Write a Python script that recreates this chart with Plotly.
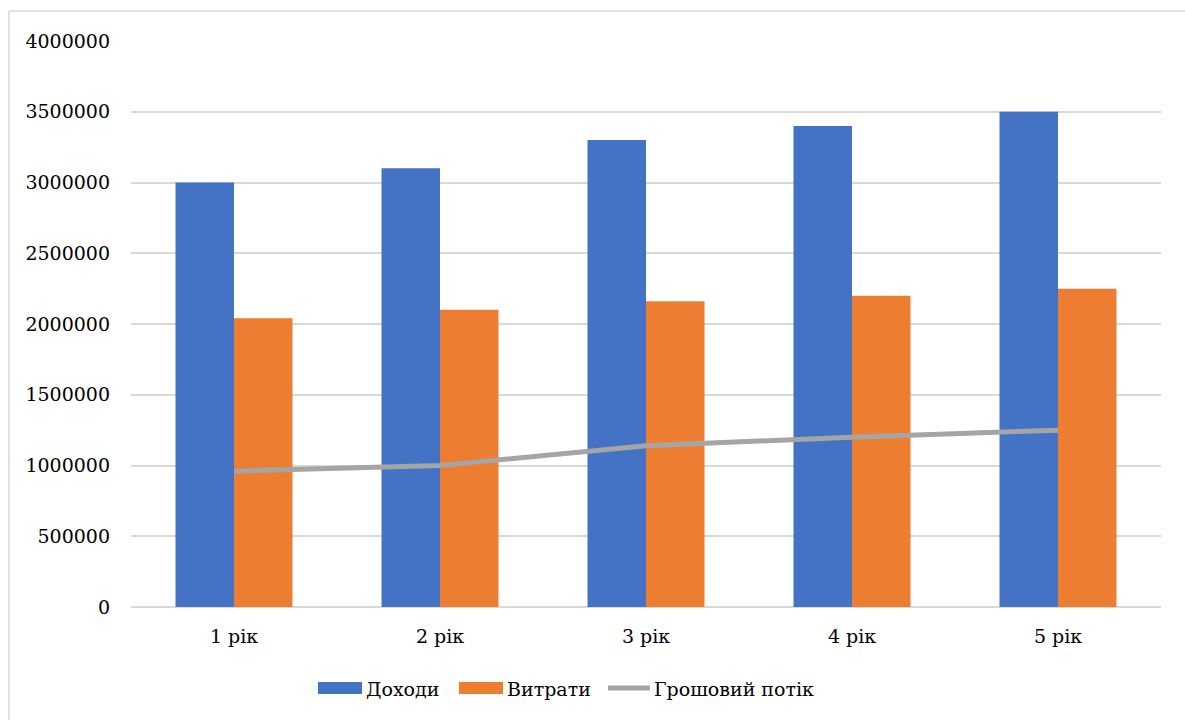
import plotly.graph_objects as go

# Річні показники, грн
years = ["1 рік", "2 рік", "3 рік", "4 рік", "5 рік"]
income = [3000000, 3100000, 3300000, 3400000, 3500000]
expenses = [2040000, 2100000, 2160000, 2200000, 2250000]
cash_flow = [960000, 1000000, 1140000, 1200000, 1250000]

W, H = 1185, 720
L, R, T, B = 131, 24, 41, 113
PW, PH = W - L - R, H - T - B

BLUE, ORANGE, GRAY = "#4472C4", "#ED7D31", "#A5A5A5"
TXT = dict(family="DejaVu Serif", size=19, color="#000")


def px(x):
    return (x - L) / PW


def py(y):
    return (H - B - y) / PH


fig = go.Figure()
fig.add_bar(x=years, y=income, name="Доходи", marker_color=BLUE, marker_line_width=0)
fig.add_bar(x=years, y=expenses, name="Витрати", marker_color=ORANGE, marker_line_width=0)
fig.add_scatter(x=years, y=cash_flow, name="Грошовий потік", mode="lines",
                line=dict(color=GRAY, width=5))

shapes = [
    # рамка області діаграми
    dict(type="line", xref="paper", yref="paper", x0=px(9), x1=px(W + 5),
         y0=py(11), y1=py(11), line=dict(color="#D9D9D9", width=1.5)),
    dict(type="line", xref="paper", yref="paper", x0=px(9), x1=px(9),
         y0=py(11), y1=py(H + 5), line=dict(color="#D9D9D9", width=1.5)),
]
annotations = []

# легенда
legend_items = [
    ("Доходи", BLUE, 318, "rect"),
    ("Витрати", ORANGE, 459, "rect"),
    ("Грошовий потік", GRAY, 606, "line"),
]
ly = 688
for label, color, x0, kind in legend_items:
    if kind == "rect":
        shapes.append(dict(type="rect", xref="paper", yref="paper",
                           x0=px(x0), x1=px(x0 + 44), y0=py(ly + 6), y1=py(ly - 6),
                           fillcolor=color, line_width=0))
    else:
        shapes.append(dict(type="line", xref="paper", yref="paper",
                           x0=px(x0 + 2), x1=px(x0 + 44), y0=py(ly), y1=py(ly),
                           line=dict(color=color, width=5)))
    annotations.append(dict(text=label, xref="paper", yref="paper",
                            x=px(x0 + 46), y=py(ly + 1), xanchor="left", yanchor="middle",
                            showarrow=False, font=TXT))

fig.update_layout(
    width=W, height=H,
    margin=dict(l=L, r=R, t=T, b=B),
    paper_bgcolor="white", plot_bgcolor="white",
    barmode="group", bargap=0.432, bargroupgap=0,
    showlegend=False,
    font=TXT,
    shapes=shapes, annotations=annotations,
    xaxis=dict(showgrid=False, showline=False, ticks="", ticklabelstandoff=16,
               tickfont=TXT),
    yaxis=dict(range=[0, 4000000], dtick=500000, tickformat="d",
               showgrid=True, gridcolor="#D9D9D9", gridwidth=1.5,
               zeroline=True, zerolinecolor="#D9D9D9", zerolinewidth=1.5,
               showline=False, ticks="", ticklabelstandoff=20,
               tickfont=TXT),
)

fig.write_html("out.html")
